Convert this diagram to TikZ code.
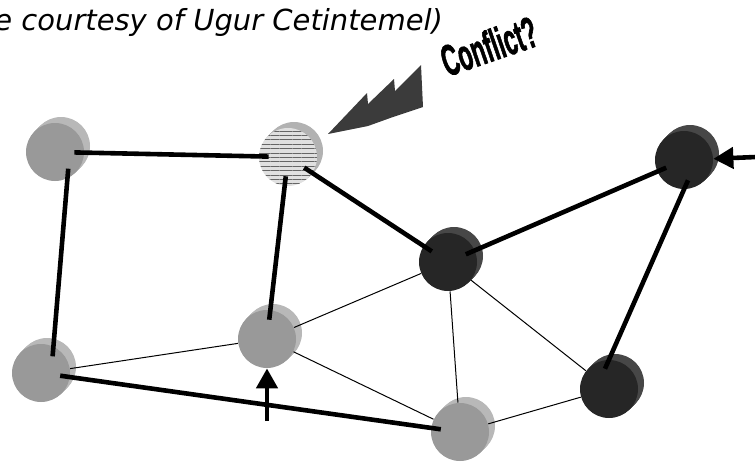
\documentclass[tikz,border=0pt]{standalone}
\usepackage{fontspec}
\usetikzlibrary{arrows.meta,patterns.meta}
\newfontfamily\titlefont{DejaVu Sans}
\newfontfamily\boltfont{Liberation Sans}[BoldFeatures={FakeBold=2}]

\tikzstyle{gv}=[shape=circle,
                fill=black!40,
                minimum size=29pt,
                inner sep=0pt]
\tikzstyle{dv}=[shape=circle,
                fill=black!85,
                minimum size=29pt,
                inner sep=0pt]
\tikzstyle{hv}=[shape=circle,
                preaction={fill=black!12},
                pattern={Lines[distance=2.2pt,line width=0.4pt]},
                pattern color=black!60,
                minimum size=29pt,
                inner sep=0pt]
\tikzstyle{hl}=[line width=2.3pt,
                shorten <=-5pt,
                shorten >=-5pt]
\tikzstyle{tl}=[line width=0.5pt]

% side of a disc, drawn behind its face
\newcommand{\discrim}[3]{\foreach \k in {1,...,6}{\fill[#3] (#1+\k,#2-\k) circle (14.5pt);}}

\begin{document}
\begin{tikzpicture}[x=0.5pt,y=-0.5pt,>={Triangle[width=10.5pt,length=10pt]}]
\useasboundingbox (0,0) rectangle (755,461);

% title
\node[anchor=base west, inner sep=0pt] (title) at (-6,30)
  {\titlefont\itshape\fontsize{14.5}{14.5}\selectfont e courtesy of Ugur Cetintemel)};

% disc sides
\discrim{55}{152}{black!28}
\discrim{288}{157}{black!30}
\discrim{448}{262}{black!72}
\discrim{684}{160}{black!72}
\discrim{41}{373}{black!28}
\discrim{267}{339}{black!28}
\discrim{460}{432}{black!28}
\discrim{609}{389}{black!72}

% sites
\node[gv] (A) at (55, 152) {};
\node[hv] (B) at (288, 157) {};
\node[dv] (C) at (448, 262) {};
\node[dv] (D) at (684, 160) {};
\node[gv] (E) at (41, 373) {};
\node[gv] (F) at (267, 339) {};
\node[gv] (G) at (460, 432) {};
\node[dv] (H) at (609, 389) {};

% conflict
\fill[black!77] (328,134) -- (367,93) -- (368,104) -- (394,79) -- (395,91)
  -- (421,65) -- (423,107) -- (393,117) -- (368,126) -- cycle;
\node[rotate=19, xscale=0.6, yscale=1.15] (conflict) at (489,46)
  {\boltfont\bfseries\fontsize{19}{19}\selectfont Conflict?};

% links
\path[draw,tl] (E) edge (F)
               (F) edge (C)
               (F) edge (G)
               (C) edge (G)
               (C) edge (H)
               (G) edge (H);
\path[draw,hl] (A) edge (B)
               (A.-65) edge (E.65)
               (B) edge (F)
               (B) edge (C)
               (C) edge (D)
               (D.south) edge (H.north)
               (E) edge (G);

% updates
\coordinate (upfoot) at (267,421);
\coordinate (rightfoot) at (756,157);
\draw[->, line width=2.3pt] (upfoot) -- (F);
\draw[->, line width=2.3pt] (rightfoot) -- (D);
\end{tikzpicture}
\end{document}
